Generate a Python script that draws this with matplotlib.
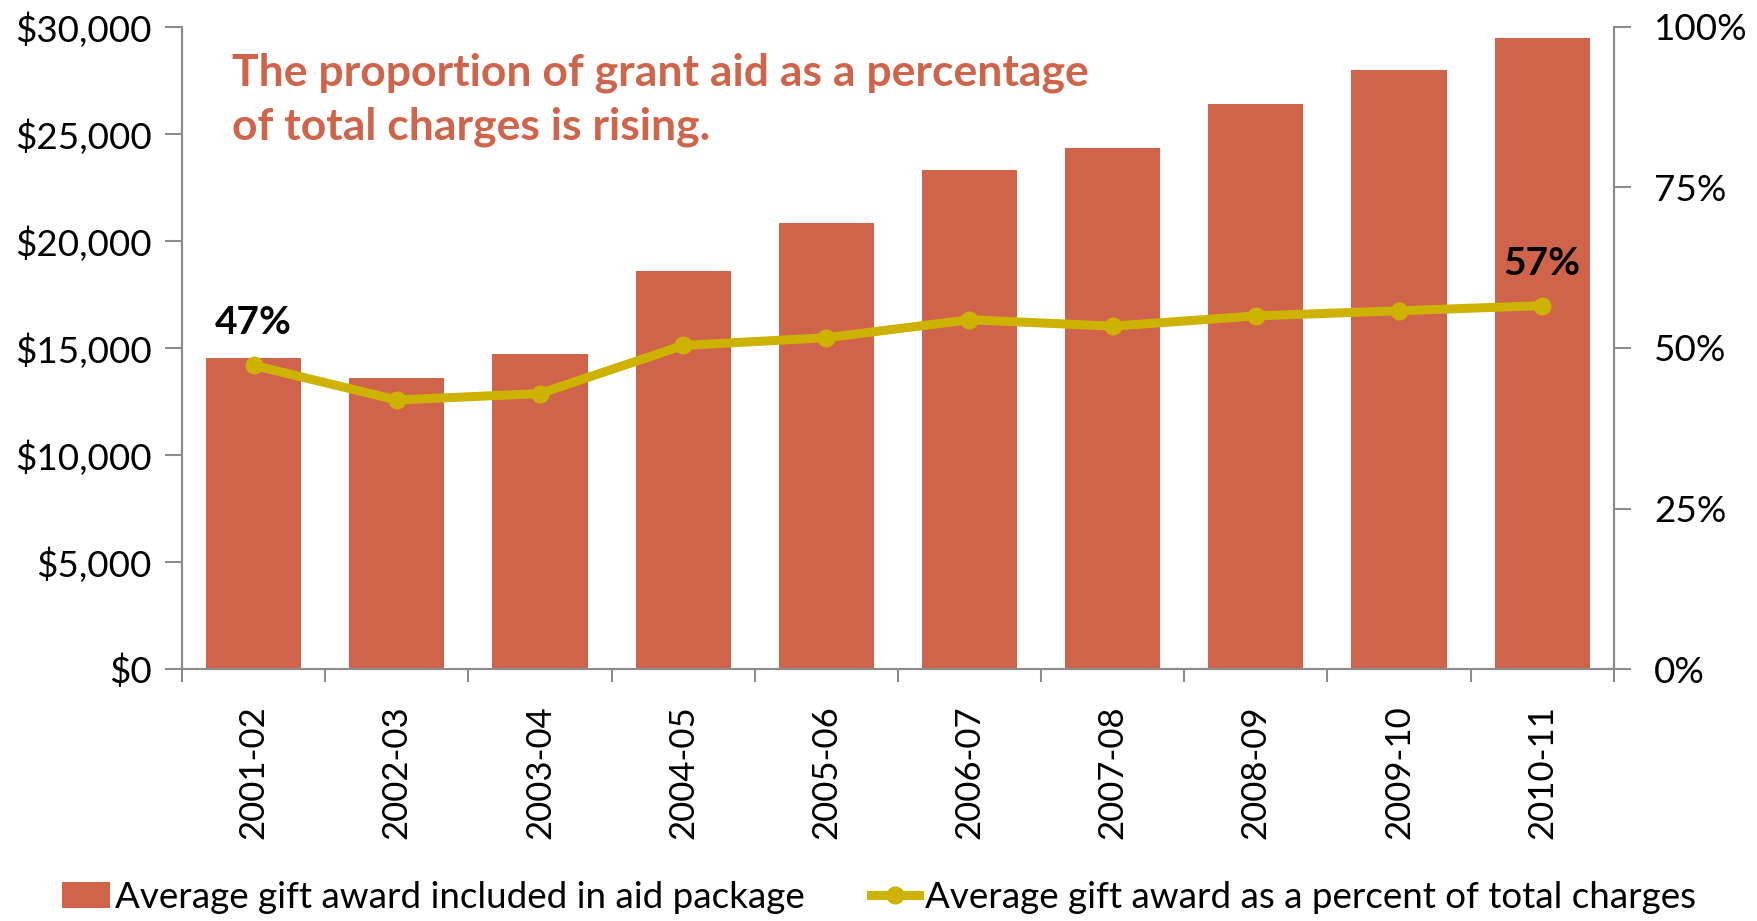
import matplotlib
matplotlib.use("Agg")
import matplotlib.pyplot as plt
from matplotlib.ticker import FuncFormatter, FixedLocator
import numpy as np

plt.rcParams['font.family'] = ['Lato', 'DejaVu Sans']

years = ["2001-02", "2002-03", "2003-04", "2004-05", "2005-06",
         "2006-07", "2007-08", "2008-09", "2009-10", "2010-11"]
gift_award = [14550, 13600, 14700, 18600, 20850, 23300, 24350, 26400, 27980, 29470]
pct_of_charges = [47.3, 41.9, 42.9, 50.4, 51.6, 54.4, 53.4, 55.0, 55.8, 56.6]

bar_color = "#D0644A"
line_color = "#CDB300"
axis_gray = "#8C8C8C"
title_color = "#D0644A"

fig = plt.figure(figsize=(17.58, 9.21), dpi=100)
ax = fig.add_axes([0.1035, 0.2736, 0.8145, 0.6971])
ax2 = ax.twinx()

x = np.arange(len(years))
bars = ax.bar(x, gift_award, width=0.665, color=bar_color, zorder=2,
              label="Average gift award included in aid package")
line, = ax2.plot(x, pct_of_charges, color=line_color, linewidth=6.5,
                 marker="o", markersize=12, zorder=3,
                 label="Average gift award as a percent of total charges")

ax.set_xlim(-0.5, len(years) - 0.5)
ax.set_ylim(0, 30000)
ax2.set_ylim(0, 100)

ax.set_yticks(np.arange(0, 30001, 5000))
ax.yaxis.set_major_formatter(FuncFormatter(lambda v, p: "${:,.0f}".format(v)))
ax2.set_yticks(np.arange(0, 101, 25))
ax2.yaxis.set_major_formatter(FuncFormatter(lambda v, p: "{:.0f}%".format(v)))

# category labels centered, tick marks between categories
ax.set_xticks(x)
ax.set_xticklabels(years, rotation=90, fontsize=25)
ax.tick_params(axis="x", which="major", length=0, pad=26)
ax.xaxis.set_minor_locator(FixedLocator(np.arange(-0.5, len(years), 1)))
ax.tick_params(axis="x", which="minor", length=9, width=1.5, color=axis_gray)

ax.tick_params(axis="y", labelsize=26.5, length=12, width=1.5, color=axis_gray, pad=10)
ax2.tick_params(axis="y", labelsize=26.5, length=12, width=1.5, color=axis_gray, pad=17)

for a in (ax, ax2):
    a.spines["top"].set_visible(False)
    for s in ("left", "right", "bottom"):
        a.spines[s].set_color(axis_gray)
        a.spines[s].set_linewidth(1.5)

ax.set_zorder(1)
ax2.set_zorder(2)
ax2.patch.set_visible(False)

# first and last value labels
for i in (0, len(years) - 1):
    ax2.annotate("{:.0f}%".format(pct_of_charges[i]), (x[i], pct_of_charges[i]),
                 xytext=(0, 18), textcoords="offset points", ha="center",
                 va="bottom", fontsize=28, fontweight="bold", color="black")

fig.text(0.132, 0.892, "The proportion of grant aid as a percentage\nof total charges is rising.",
         fontsize=32, fontweight="bold", color=title_color, ha="left", va="center",
         linespacing=1.42)

fig.legend(handles=[bars, line], loc="center", bbox_to_anchor=(0.5, 0.026),
           ncol=2, frameon=False, fontsize=26.5, handlelength=1.3,
           handletextpad=0.15, columnspacing=1.8, borderaxespad=0)

fig.savefig("out.png", dpi=100)
